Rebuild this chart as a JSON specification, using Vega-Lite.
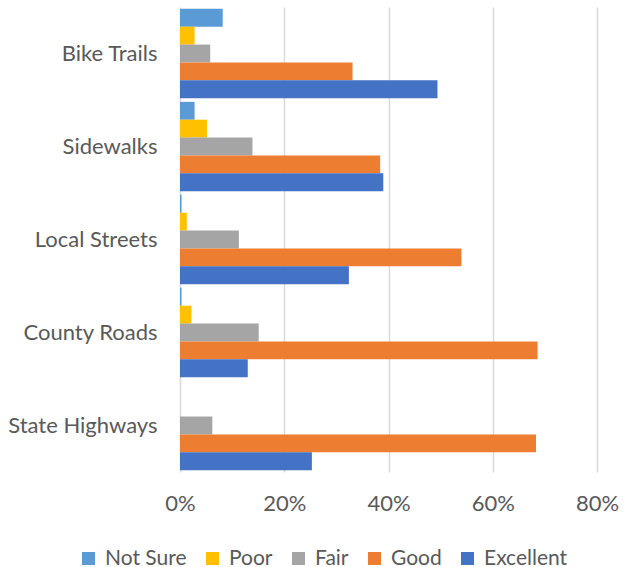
{
  "$schema": "https://vega.github.io/schema/vega-lite/v6.json",
  "width": 417,
  "height": 465,
  "autosize": {"type": "none"},
  "padding": {"left": 180, "top": 7, "right": 37, "bottom": 95},
  "background": "white",
  "config": {
    "view": {"stroke": null},
    "font": "Lato"
  },
  "data": {
    "values": [
      {"category": "Bike Trails", "rating": "Not Sure", "value": 0.082},
      {"category": "Bike Trails", "rating": "Poor", "value": 0.028},
      {"category": "Bike Trails", "rating": "Fair", "value": 0.058},
      {"category": "Bike Trails", "rating": "Good", "value": 0.331},
      {"category": "Bike Trails", "rating": "Excellent", "value": 0.494},
      {"category": "Sidewalks", "rating": "Not Sure", "value": 0.028},
      {"category": "Sidewalks", "rating": "Poor", "value": 0.052},
      {"category": "Sidewalks", "rating": "Fair", "value": 0.139},
      {"category": "Sidewalks", "rating": "Good", "value": 0.384},
      {"category": "Sidewalks", "rating": "Excellent", "value": 0.39},
      {"category": "Local Streets", "rating": "Not Sure", "value": 0.003},
      {"category": "Local Streets", "rating": "Poor", "value": 0.013},
      {"category": "Local Streets", "rating": "Fair", "value": 0.113},
      {"category": "Local Streets", "rating": "Good", "value": 0.54},
      {"category": "Local Streets", "rating": "Excellent", "value": 0.324},
      {"category": "County Roads", "rating": "Not Sure", "value": 0.003},
      {"category": "County Roads", "rating": "Poor", "value": 0.022},
      {"category": "County Roads", "rating": "Fair", "value": 0.151},
      {"category": "County Roads", "rating": "Good", "value": 0.686},
      {"category": "County Roads", "rating": "Excellent", "value": 0.13},
      {"category": "State Highways", "rating": "Not Sure", "value": 0},
      {"category": "State Highways", "rating": "Poor", "value": 0},
      {"category": "State Highways", "rating": "Fair", "value": 0.062},
      {"category": "State Highways", "rating": "Good", "value": 0.683},
      {"category": "State Highways", "rating": "Excellent", "value": 0.253}
    ]
  },
  "mark": {"type": "bar"},
  "encoding": {
    "y": {
      "field": "category",
      "type": "nominal",
      "sort": ["Bike Trails", "Sidewalks", "Local Streets", "County Roads", "State Highways"],
      "scale": {"paddingInner": 0.04, "paddingOuter": 0.02},
      "axis": {
        "title": null,
        "domain": false,
        "ticks": false,
        "labelPadding": 23,
        "labelFontSize": 22,
        "labelColor": "#595959",
        "labelFont": "Lato",
        "labelLimit": 300
      }
    },
    "yOffset": {
      "field": "rating",
      "type": "nominal",
      "sort": ["Not Sure", "Poor", "Fair", "Good", "Excellent"],
      "scale": {"paddingInner": 0, "paddingOuter": 0}
    },
    "x": {
      "field": "value",
      "type": "quantitative",
      "scale": {"domain": [0, 0.8], "nice": false},
      "axis": {
        "title": null,
        "format": ".0%",
        "values": [0, 0.2, 0.4, 0.6, 0.8],
        "domain": false,
        "ticks": false,
        "grid": true,
        "gridColor": "#D9D9D9",
        "gridWidth": 1.5,
        "labelFlush": false,
        "labelOverlap": false,
        "labelPadding": 21,
        "labelFontSize": 22,
        "labelColor": "#595959",
        "labelFont": "Lato"
      }
    },
    "color": {
      "field": "rating",
      "type": "nominal",
      "sort": ["Not Sure", "Poor", "Fair", "Good", "Excellent"],
      "scale": {
        "domain": ["Not Sure", "Poor", "Fair", "Good", "Excellent"],
        "range": ["#5B9BD5", "#FFC000", "#A5A5A5", "#ED7D31", "#4472C4"]
      },
      "legend": {
        "title": null,
        "orient": "none",
        "direction": "horizontal",
        "gridAlign": "none",
        "padding": 0,
        "legendX": -102,
        "legendY": 541,
        "symbolType": "square",
        "symbolSize": 169,
        "symbolStrokeWidth": 0,
        "symbolOpacity": 1,
        "labelFontSize": 21,
        "labelColor": "#595959",
        "labelFont": "Lato",
        "labelLimit": 200,
        "columnPadding": 15,
        "labelOffset": 6
      }
    }
  }
}
